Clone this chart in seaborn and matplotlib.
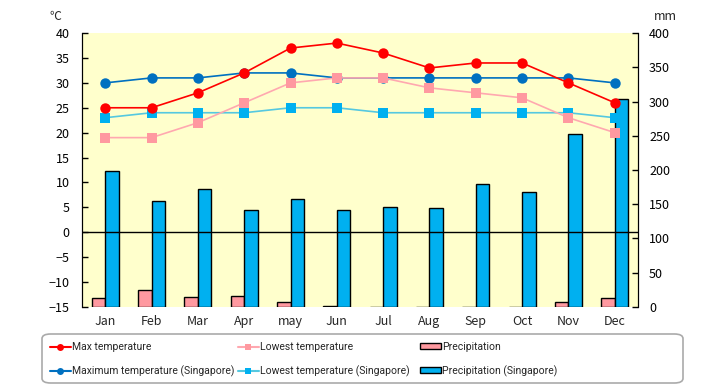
import numpy as np
import pandas as pd
import matplotlib
matplotlib.use("Agg")
import matplotlib.pyplot as plt
import seaborn as sns
from matplotlib.lines import Line2D
from matplotlib.patches import Patch, FancyBboxPatch

# data
months = ["Jan", "Feb", "Mar", "Apr", "may", "Jun", "Jul", "Aug", "Sep", "Oct", "Nov", "Dec"]
max_temp = [25, 25, 28, 32, 37, 38, 36, 33, 34, 34, 30, 26]
low_temp = [19, 19, 22, 26, 30, 31, 31, 29, 28, 27, 23, 20]
max_temp_sg = [30, 31, 31, 32, 32, 31, 31, 31, 31, 31, 31, 30]
low_temp_sg = [23, 24, 24, 24, 25, 25, 24, 24, 24, 24, 24, 23]
precip = [12.4, 25.1, 14.9, 16.3, 6.6, 0.7, 0, 0.5, 0, 0.5, 6.4, 12.7]
precip_sg = [198, 155, 172, 141, 158, 141, 146, 145, 179, 168, 252, 303]

sns.set_style("white")
plt.rcParams['font.family'] = ['Noto Sans CJK JP', 'DejaVu Sans']
plt.rcParams['font.size'] = 8.5

c_red = "#FF0000"
c_pink = "#FF99A0"
c_pink_line = "#FFA8B0"
c_navy = "#0070C0"
c_sky = "#00B0F0"
c_sky_line = "#55C8E0"

fig = plt.figure(figsize=(7.2, 3.85), dpi=100)
ax2 = fig.add_axes([0.114, 0.203, 0.772, 0.711])
ax = ax2.twinx()
ax.yaxis.tick_left()
ax2.yaxis.tick_right()

# bars on the mm axis (drawn under the lines)
bars = pd.DataFrame({
    "month": months * 2,
    "mm": precip + precip_sg,
    "series": ["Precipitation"] * 12 + ["Precipitation (Singapore)"] * 12,
})
sns.barplot(data=bars, x="month", y="mm", hue="series", ax=ax2,
            palette=[c_pink, c_sky], width=0.58, edgecolor="black",
            linewidth=1, legend=False, saturation=1)
ax2.set_facecolor("#FFFFCC")
ax2.set_ylim(0, 400)
ax2.set_yticks(np.arange(0, 401, 50))
ax2.set_xlim(-0.5, 11.5)
ax2.set_xlabel("")
ax2.set_ylabel("")

# temperature lines on the left axis
xs = np.arange(len(months))
sns.lineplot(x=xs, y=max_temp_sg, ax=ax, color=c_navy, marker="o", markersize=7.5,
             markeredgewidth=0, linewidth=1.2)
sns.lineplot(x=xs, y=low_temp_sg, ax=ax, color=c_sky_line, marker="s", markersize=6.5,
             markerfacecolor=c_sky, markeredgewidth=0, linewidth=1.2)
sns.lineplot(x=xs, y=low_temp, ax=ax, color=c_pink_line, marker="s", markersize=6.5,
             markerfacecolor=c_pink, markeredgewidth=0, linewidth=1.2)
sns.lineplot(x=xs, y=max_temp, ax=ax, color=c_red, marker="o", markersize=7.5,
             markeredgewidth=0, linewidth=1.2)
ax.axhline(0, color="black", linewidth=1, zorder=1)
ax.set_ylim(-15, 40)
ax.set_yticks(np.arange(-15, 41, 5))
ax.set_xlim(-0.5, 11.5)

for a in (ax, ax2):
    for s in ("top", "bottom"):
        a.spines[s].set_visible(False)
    a.spines["left"].set_color("black")
    a.spines["right"].set_color("black")

ax.tick_params(axis="y", direction="in", length=4, width=1, pad=9, labelsize=9, colors="black")
ax2.tick_params(axis="y", direction="in", length=4, width=1, pad=8, labelsize=9, colors="black")
ax2.tick_params(axis="x", length=0, pad=6, labelsize=9)

fig.text(0.077, 0.958, "℃", fontsize=8.5, ha="center", va="center")
fig.text(0.924, 0.958, "mm", fontsize=9, ha="center", va="center")

# legend: rounded frame plus three single-column legends
frame = FancyBboxPatch((42 / 720, 2 / 385), 641 / 720, 49 / 385,
                       boxstyle="round,pad=0,rounding_size=0.012",
                       transform=fig.transFigure, facecolor="white",
                       edgecolor="#AAAAAA", linewidth=1.2)
fig.patches.append(frame)

leg_font = {"family": ["DejaVu Sans Condensed", "Roboto", "DejaVu Sans"], "size": 7.5}
columns = [
    (50, [Line2D([], [], color=c_red, marker="o", markersize=5, markeredgewidth=0),
          Line2D([], [], color=c_navy, marker="o", markersize=5, markeredgewidth=0)],
     ["Max temperature", "Maximum temperature (Singapore)"]),
    (238, [Line2D([], [], color=c_pink_line, marker="s", markersize=5, markerfacecolor=c_pink, markeredgewidth=0),
           Line2D([], [], color=c_sky_line, marker="s", markersize=5, markerfacecolor=c_sky, markeredgewidth=0)],
     ["Lowest temperature", "Lowest temperature (Singapore)"]),
    (420, [Patch(facecolor=c_pink, edgecolor="black"),
           Patch(facecolor=c_sky, edgecolor="black")],
     ["Precipitation", "Precipitation (Singapore)"]),
]
for x0, h, l in columns:
    fig.legend(h, l, loc="upper left", bbox_to_anchor=(x0 / 720, 1 - 342 / 385),
               frameon=False, prop=leg_font, handlelength=2.0, handletextpad=0.15,
               labelspacing=1.25, borderpad=0, borderaxespad=0, handleheight=0.5)

fig.savefig("out.png", dpi=100)
